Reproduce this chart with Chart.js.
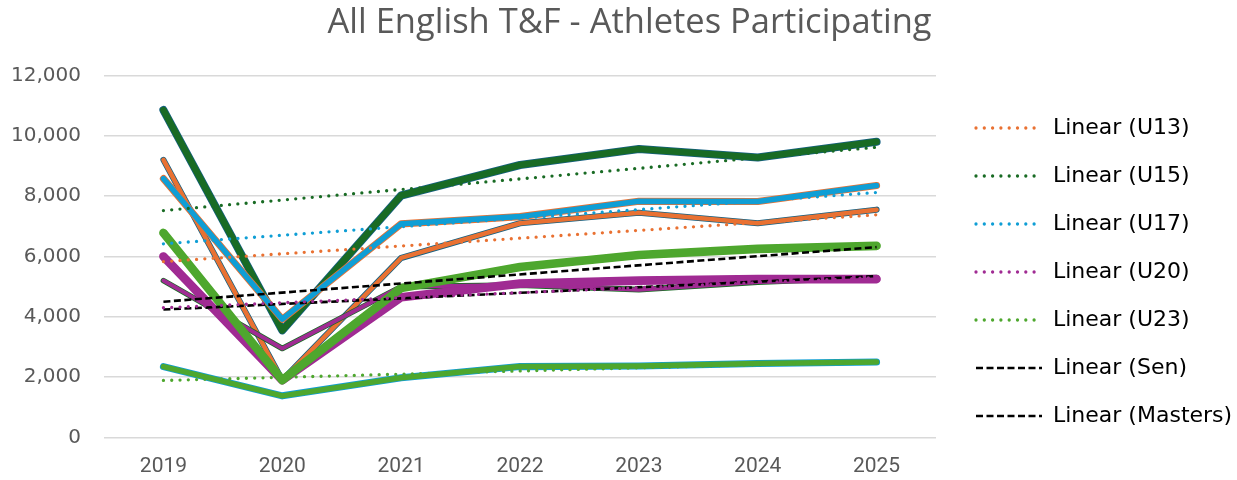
<!DOCTYPE html>
<html>
<head>
<meta charset="utf-8">
<script src="https://cdn.jsdelivr.net/npm/chart.js@4.4.1/dist/chart.umd.min.js"></script>
<style>
  html, body { margin: 0; padding: 0; background: #fff; }
  #wrap { width: 1237px; height: 480px; }
</style>
</head>
<body>
<div id="wrap"><canvas id="chart"></canvas></div>
<script>
// categories
const years = ['2019', '2020', '2021', '2022', '2023', '2024', '2025'];

// athletes participating per age group
const u13 = [9200, 1900, 5950, 7100, 7450, 7100, 7550];
const u15 = [10850, 3550, 8020, 9030, 9560, 9280, 9800];
const u17 = [8580, 3920, 7080, 7320, 7830, 7820, 8350];
const u20 = [6000, 1900, 4650, 5100, 5200, 5250, 5250];
const u23 = [2350, 1380, 1980, 2350, 2370, 2450, 2500];
const sen = [6780, 1900, 4950, 5650, 6050, 6250, 6350];
const masters = [5200, 2950, 5000, 5050, 4900, 5150, 5300];

// linear trendlines, value at 2019 and at 2025
const trendU13 = [5830, 7380];
const trendU15 = [7520, 9620];
const trendU17 = [6420, 8120];
const trendU20 = [4300, 5300];
const trendU23 = [1890, 2520];
const trendSen = [4500, 6310];
const trendMasters = [4240, 5350];

const yTicks = [0, 2000, 4000, 6000, 8000, 10000, 12000];

const FONT = "'DejaVu Sans', sans-serif";
const ORANGE = '#E97132', DKGREEN = '#196B24', BLUE = '#0F9ED5',
      PURPLE = '#A02B93', GREEN = '#4EA72E', NAVY = '#156082';

// series: [label, data, line colour, outline colour, width, draw rank]
const series = [
  ['U13', u13, ORANGE, NAVY, 4.5, 0],
  ['U15', u15, DKGREEN, NAVY, 6.5, 1],
  ['U17', u17, BLUE, ORANGE, 5.5, 2],
  ['Masters', masters, PURPLE, DKGREEN, 4, 3],
  ['U20', u20, PURPLE, PURPLE, 7, 4],
  ['U23', u23, GREEN, BLUE, 5.5, 5],
  ['Sen', sen, GREEN, GREEN, 7, 6]
];

const trends = [
  ['U13', trendU13, ORANGE, 'dot'],
  ['U15', trendU15, DKGREEN, 'dot'],
  ['U17', trendU17, BLUE, 'dot'],
  ['U20', trendU20, PURPLE, 'dot'],
  ['U23', trendU23, GREEN, 'dot'],
  ['Sen', trendSen, '#000000', 'dash'],
  ['Masters', trendMasters, '#000000', 'dash']
];

function endsOnly(pair) {
  const arr = years.map(() => null);
  arr[0] = pair[0];
  arr[arr.length - 1] = pair[1];
  return arr;
}

const datasets = [];
trends.forEach((t, i) => {
  const dot = t[3] === 'dot';
  datasets.push({
    label: 'Linear (' + t[0] + ')',
    data: endsOnly(t[1]),
    borderColor: t[2],
    backgroundColor: t[2],
    borderWidth: dot ? 3.3 : 2.6,
    borderDash: dot ? [0, 8.3] : [7, 3.5],
    borderCapStyle: dot ? 'round' : 'butt',
    spanGaps: true,
    pointRadius: 0,
    order: i + 1
  });
});
series.forEach(s => {
  // outline underneath, then the line itself
  datasets.push({
    label: s[0] + ' outline',
    data: s[1],
    borderColor: s[3],
    borderWidth: s[4] + 1.6,
    borderCapStyle: 'round',
    borderJoinStyle: 'round',
    pointRadius: 0,
    order: 1000 - s[5] * 10
  });
  datasets.push({
    label: s[0],
    data: s[1],
    borderColor: s[2],
    borderWidth: s[4],
    borderCapStyle: 'round',
    borderJoinStyle: 'round',
    pointRadius: 0,
    order: 1000 - s[5] * 10 - 1
  });
});

const boxTweaks = {
  id: 'boxTweaks',
  beforeLayout(chart) {
    const lg = chart.legend;
    if (lg && !lg._fixed) {
      const fit = lg.fit;
      lg.fit = function () { fit.call(this); this.width = 301; };
      lg._fixed = true;
    }
  },
  afterLayout(chart) {
    const lg = chart.legend;
    const h = lg.bottom - lg.top;
    lg.left += 14; lg.right += 14;
    lg.top = 91; lg.bottom = lg.top + h;
    const t = chart.titleBlock;
    t.left += 11; t.right += 11;
  }
};

new Chart(document.getElementById('chart'), {
  type: 'line',
  data: { labels: years, datasets: datasets },
  options: {
    responsive: true,
    maintainAspectRatio: false,
    animation: false,
    layout: { padding: 0 },
    scales: {
      x: {
        offset: true,
        grid: { display: false, drawTicks: false },
        border: { display: false },
        afterFit: scale => { scale.height = 42.5; },
        ticks: { color: '#595959', padding: 17, font: { family: "'Liberation Sans Narrow', 'Roboto', sans-serif", size: 21 } }
      },
      y: {
        min: 0,
        max: 12000,
        afterBuildTicks: scale => { scale.ticks = yTicks.map(v => ({ value: v })); },
        afterFit: scale => { scale.width = 104; },
        grid: { color: '#D9D9D9', lineWidth: 1.5, drawTicks: false },
        border: { display: false },
        ticks: {
          color: '#595959',
          padding: 23,
          font: { family: FONT, size: 20 },
          callback: v => v.toLocaleString('en-US')
        }
      }
    },
    plugins: {
      title: {
        display: true,
        text: 'All English T&F - Athletes Participating',
        color: '#595959',
        font: { family: "'Open Sans', sans-serif", size: 34.5, weight: 'normal' },
        padding: { top: 2, bottom: 32 }
      },
      legend: {
        position: 'right',
        align: 'start',
        labels: {
          usePointStyle: true,
          pointStyleWidth: 66,
          boxHeight: 22,
          padding: 26,
          color: '#000',
          font: { family: FONT, size: 22 },
          generateLabels: chart => chart.data.datasets
            .map((ds, i) => ({
              text: ds.label,
              datasetIndex: i,
              strokeStyle: ds.borderColor,
              fillStyle: ds.borderColor,
              lineWidth: ds.borderWidth,
              lineDash: ds.borderDash,
              lineCap: ds.borderCapStyle,
              pointStyle: 'line',
              hidden: false,
              fontColor: '#000'
            }))
            .filter(it => it.text.indexOf('Linear') === 0)
        }
      },
      tooltip: { enabled: false }
    }
  },
  plugins: [boxTweaks]
});
</script>
</body>
</html>
